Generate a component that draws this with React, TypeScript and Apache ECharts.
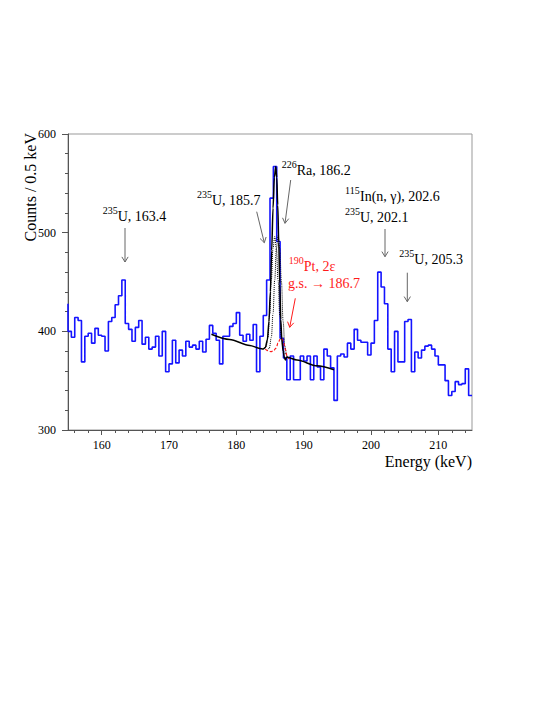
import React, { useEffect, useRef } from "react";
import * as echarts from "echarts";

// ---------- data ----------
const BIN_LOW = 155; // keV, low edge of first bin
const BIN_WIDTH = 0.5; // keV
const underflowCount = 428; // bin just left of the frame (its edge line is visible)
const counts = [
  400, 394, 414, 411, 369, 395, 398, 388, 403, 396,
  395, 380, 410, 414, 427, 436, 452, 408, 402, 390,
  404, 411, 387, 394, 382, 384, 395, 375, 400, 359,
  367, 391, 368, 381, 375, 390, 384, 386, 382, 390,
  379, 392, 406, 398, 391, 367, 395, 395, 405, 408,
  419, 396, 390, 397, 391, 407, 359, 395, 416, 452,
  535, 567, 491, 393, 373, 351, 375, 351, 351, 375,
  370, 375, 351, 375, 364, 351, 382, 375, 363, 330,
  375, 377, 374, 388, 382, 402, 391, 389, 389, 376,
  388, 411, 460, 445, 428, 382, 359, 400, 369, 369,
  410, 412, 359, 379, 373, 381, 385, 386, 382, 375,
  366, 366, 350, 335, 339, 349, 346, 347, 362, 335,
];

// fit curves: [energy keV, counts]
const fitTotal = [
  [176.3, 397], [179.0, 391.7], [182.0, 385.7], [183.5, 382.7], [184.0, 382],
  [184.3, 383.5], [184.6, 391], [184.85, 410],
  [185.05, 440], [185.25, 482], [185.45, 525], [185.65, 556], [185.85, 567],
  [186.0, 556], [186.15, 528], [186.3, 490], [186.45, 448], [186.6, 412],
  [186.75, 392], [186.95, 380], [187.15, 373], [187.3, 371], [187.45, 374],
  [189.0, 370.9], [192.0, 365], [194.5, 361],
];
const fitU235 = [
  [184.0, 382], [184.4, 384], [184.7, 394], [184.95, 418], [185.2, 452],
  [185.45, 484], [185.7, 496], [185.95, 484], [186.2, 452], [186.45, 416],
  [186.7, 392], [187.0, 380], [187.3, 377],
];
const fitRa226 = [
  [184.6, 380], [184.9, 383], [185.2, 394], [185.45, 418], [185.7, 452],
  [185.95, 484], [186.2, 497], [186.45, 484], [186.7, 450], [186.95, 410],
  [187.2, 385], [187.5, 375], [187.8, 372],
];
const fitPt190 = [
  [184.3, 382], [184.7, 380.5], [185.1, 379.5], [185.5, 380], [185.9, 383],
  [186.2, 388], [186.5, 392], [186.75, 393], [187.0, 389], [187.25, 382],
  [187.55, 375], [187.85, 372],
];

const xMajorTicks = [160, 170, 180, 190, 200, 210];
const xMinorTicks = [156, 158, 162, 164, 166, 168, 172, 174, 176, 178, 182, 184, 186, 188,
  192, 194, 196, 198, 202, 204, 206, 208, 212, 214];

const SERIF = "Liberation Serif";
const ANN = 14; // annotation font size
const SUP = 10; // superscript font size

// ---------- helpers ----------
function arrow(x1: number, y1: number, x2: number, y2: number, color: string) {
  const ang = Math.atan2(y2 - y1, x2 - x1);
  const L = 6;
  const a = 0.55;
  const p1 = [x2 - L * Math.cos(ang - a), y2 - L * Math.sin(ang - a)];
  const p2 = [x2 - L * Math.cos(ang + a), y2 - L * Math.sin(ang + a)];
  return {
    type: "group",
    children: [
      { type: "line", shape: { x1, y1, x2, y2 }, style: { stroke: color, lineWidth: 1 } },
      { type: "polyline", shape: { points: [p1, [x2, y2], p2] }, style: { stroke: color, lineWidth: 1, fill: null } },
    ],
  };
}

function isoLabel(x: number, yMain: number, sup: string, main: string, color: string) {
  const supW = sup.length * 5;
  return {
    type: "group",
    children: [
      {
        type: "text", x, y: yMain - 6,
        style: { text: sup, fontSize: SUP, fontFamily: SERIF, fill: color, align: "left", verticalAlign: "middle" },
      },
      {
        type: "text", x: x + supW, y: yMain,
        style: { text: main, fontSize: ANN, fontFamily: SERIF, fill: color, align: "left", verticalAlign: "middle" },
      },
    ],
  };
}

function plainText(x: number, y: number, text: string, color: string, size = ANN, align = "left") {
  return {
    type: "text", x, y,
    style: { text, fontSize: size, fontFamily: SERIF, fill: color, align, verticalAlign: "middle" },
  };
}

export default function App() {
  const ref = useRef<HTMLDivElement>(null);

  useEffect(() => {
    if (!ref.current) return;
    const chart = echarts.init(ref.current, null, { renderer: "svg" });

    const histData: number[][] = [[BIN_LOW, underflowCount]];
    counts.forEach((c, i) => histData.push([BIN_LOW + i * BIN_WIDTH, c]));
    histData.push([BIN_LOW + counts.length * BIN_WIDTH, counts[counts.length - 1]]);

    const gray = "#666";
    const red = "#ff1a1a";

    const option: any = {
      animation: false,
      backgroundColor: "#fff",
      textStyle: { fontFamily: SERIF },
      grid: {
        left: 68, top: 134, width: 404, height: 296,
        show: true, borderColor: "#999", borderWidth: 1,
        containLabel: false, outerBoundsMode: "none",
      },
      xAxis: [
        {
          type: "value", min: 155, max: 215, position: "bottom",
          axisLine: { show: true, onZero: false, lineStyle: { color: "#555", width: 1 } },
          axisTick: { show: true, customValues: xMajorTicks, length: 5, lineStyle: { color: "#555" } },
          axisLabel: {
            show: true, customValues: xMajorTicks, margin: 9,
            fontFamily: SERIF, fontSize: 12, color: "#000",
          },
          splitLine: { show: false },
        },
        {
          type: "value", min: 155, max: 215, position: "bottom", offset: 0,
          axisLine: { show: false, onZero: false },
          axisTick: { show: true, customValues: xMinorTicks, length: 3, lineStyle: { color: "#555" } },
          axisLabel: { show: false },
          splitLine: { show: false },
        },
      ],
      yAxis: {
        type: "value", min: 300, max: 600, interval: 100,
        axisLine: { show: true, onZero: false, lineStyle: { color: "#555", width: 1 } },
        axisTick: { show: true, length: 6, lineStyle: { color: "#555" } },
        minorTick: { show: true, splitNumber: 5, length: 3, lineStyle: { color: "#555" } },
        axisLabel: { margin: 12, fontFamily: SERIF, fontSize: 12, color: "#000" },
        splitLine: { show: false },
        minorSplitLine: { show: false },
      },
      series: [
        {
          type: "line", name: "data", data: histData, step: "end",
          showSymbol: false, symbol: "none",
          lineStyle: { color: "#1414ff", width: 1.6 }, z: 2,
        },
        {
          type: "line", name: "U235", data: fitU235, smooth: 0.4, smoothMonotone: "x",
          showSymbol: false, symbol: "none",
          lineStyle: { color: "#000", width: 1, type: "dotted" }, z: 3,
        },
        {
          type: "line", name: "Ra226", data: fitRa226, smooth: 0.4, smoothMonotone: "x",
          showSymbol: false, symbol: "none",
          lineStyle: { color: "#000", width: 1, type: "dotted" }, z: 3,
        },
        {
          type: "line", name: "Pt190", data: fitPt190, smooth: 0.4, smoothMonotone: "x",
          showSymbol: false, symbol: "none",
          lineStyle: { color: red, width: 1.2, type: [3, 2] }, z: 4,
        },
        {
          type: "line", name: "fit", data: fitTotal, smooth: 0.3, smoothMonotone: "x",
          showSymbol: false, symbol: "none",
          lineStyle: { color: "#000", width: 1.5 }, z: 5,
        },
      ],
      graphic: [
        {
          type: "text", x: 30, y: 133, rotation: Math.PI / 2,
          style: {
            text: "Counts / 0.5 keV", fontSize: 16, fontFamily: SERIF, fill: "#000",
            align: "right", verticalAlign: "middle",
          },
        },
        plainText(472, 461, "Energy (keV)", "#000", 16, "right"),

        isoLabel(102.7, 216, "235", "U, 163.4", "#000"),
        arrow(125, 228, 125, 262, gray),

        isoLabel(197, 200, "235", "U, 185.7", "#000"),
        arrow(256.7, 211.7, 264.3, 242.7, gray),

        isoLabel(281.7, 170, "226", "Ra, 186.2", "#000"),
        arrow(290.7, 180, 285, 223.3, gray),

        isoLabel(288.7, 266.5, "190", "Pt, 2\u03b5", red),
        plainText(288, 283.3, "g.s. \u2192 186.7", red),
        arrow(295.3, 298.3, 289.7, 327.3, red),

        isoLabel(345, 196, "115", "In(n, \u03b3), 202.6", "#000"),
        isoLabel(345, 217, "235", "U, 202.1", "#000"),
        arrow(385, 229, 385, 256.7, gray),

        isoLabel(399.3, 259, "235", "U, 205.3", "#000"),
        arrow(407.3, 272.7, 407.3, 301.7, gray),
      ],
    };

    chart.setOption(option);
    return () => chart.dispose();
  }, []);

  return (
    <div
      ref={ref}
      style={{ position: "absolute", left: 0, top: 0, width: 556, height: 719, background: "#fff" }}
    />
  );
}
